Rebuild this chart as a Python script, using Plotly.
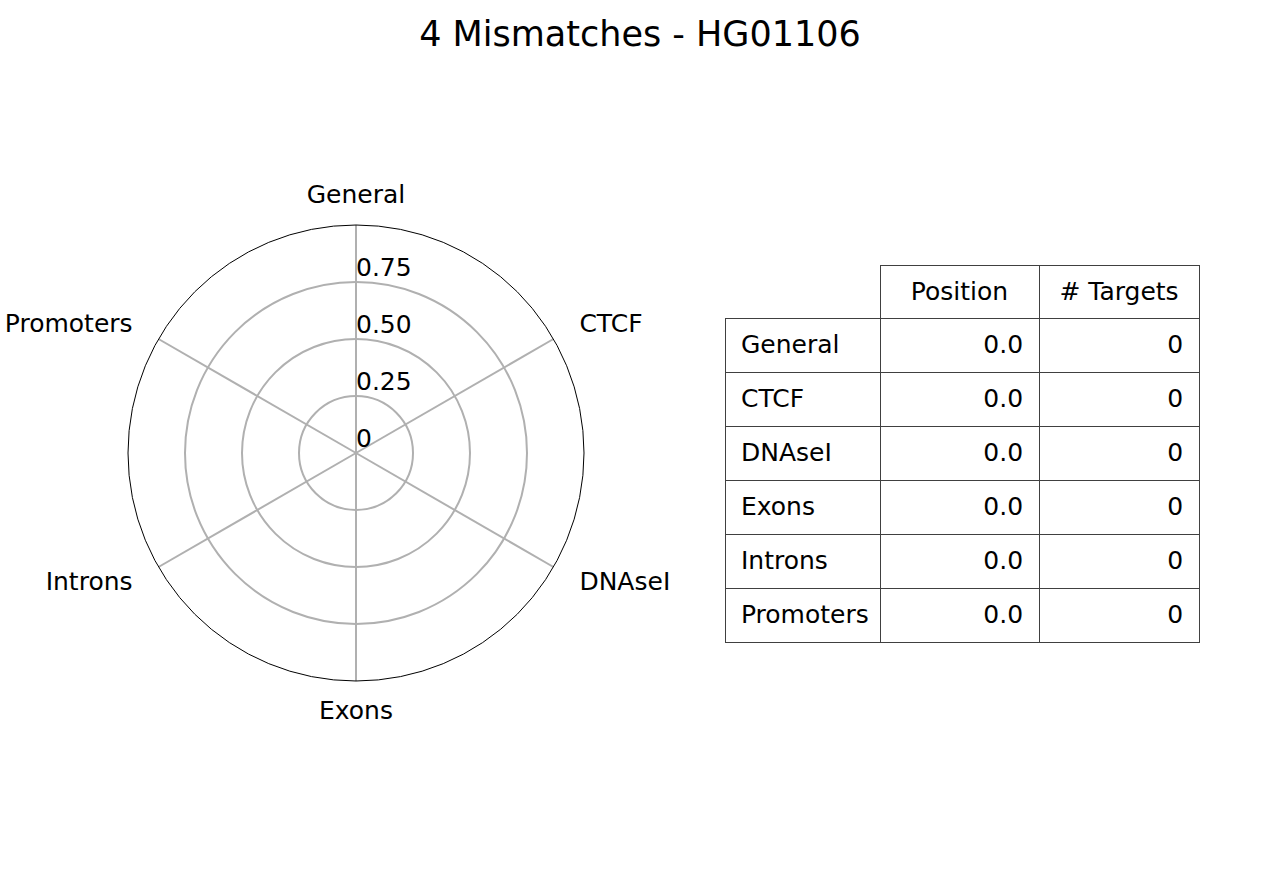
import plotly.graph_objects as go

title = "4 Mismatches - HG01106"
categories = ["General", "CTCF", "DNAseI", "Exons", "Introns", "Promoters"]
positions = [0.0, 0.0, 0.0, 0.0, 0.0, 0.0]
targets = [0, 0, 0, 0, 0, 0]
radial_ticks = [0, 0.25, 0.5, 0.75]
radial_ticktext = ["0", "0.25", "0.50", "0.75"]
table_header = ["", "Position", "# Targets"]

FONT = "DejaVu Sans"
FS = 25
NBSP = "\u00a0"
W, H = 1280, 880

# polar geometry (pixels)
CX, CY, R = 356, 453, 228
LABEL_PX = 258          # radius at which category labels sit
LABEL_DY = 1.5          # small downward nudge of the label overlay
LABEL_RANGE = 1.1       # radial range of the label overlay axis
R2 = LABEL_PX * LABEL_RANGE
CY2 = CY + LABEL_DY
label_positions = ["middle center", "middle right", "middle right",
                   "middle center", "middle left", "middle left"]

fig = go.Figure()

fig.add_trace(go.Scatterpolar(
    r=positions + positions[:1],
    theta=categories + categories[:1],
    mode="lines",
    line=dict(color="#1f77b4", width=1),
    fill="toself",
    fillcolor="rgba(31,119,180,0.25)",
    showlegend=False,
    hoverinfo="skip",
    subplot="polar",
))

# radial tick labels
fig.add_trace(go.Scatterpolar(
    r=radial_ticks,
    theta=[categories[0]] * len(radial_ticks),
    mode="text",
    text=radial_ticktext,
    textposition="top right",
    textfont=dict(family=FONT, size=FS, color="black"),
    showlegend=False,
    hoverinfo="skip",
    cliponaxis=False,
    subplot="polar",
))

# category labels around the circle (overlay polar axis)
fig.add_trace(go.Scatterpolar(
    r=[1] * len(categories),
    theta=categories,
    mode="text",
    text=categories,
    textposition=label_positions,
    textfont=dict(family=FONT, size=FS, color="black"),
    showlegend=False,
    hoverinfo="skip",
    cliponaxis=False,
    subplot="polar2",
))

TX0, TX1 = 725 / W, 1199.5 / W
TY_TOP, TY_BOT = 265, 645
SHIFT = 8.5
colw = [155, 159, 160]

# grid table (borders only)
fig.add_trace(go.Table(
    domain=dict(x=[TX0, TX1], y=[1 - TY_BOT / H, 1 - TY_TOP / H]),
    columnwidth=colw,
    header=dict(
        values=[""] * len(table_header),
        height=53,
        fill=dict(color=["rgba(0,0,0,0)", "white", "white"]),
        line=dict(color=["rgba(0,0,0,0)", "#404040", "#404040"], width=1),
        font=dict(family=FONT, size=FS, color="black"),
    ),
    cells=dict(
        values=[[""] * len(categories)] * 3,
        height=54,
        fill=dict(color="white"),
        line=dict(color="#404040", width=1),
        font=dict(family=FONT, size=FS, color="black"),
    ),
))

# text table (shifted down to centre text vertically)
fig.add_trace(go.Table(
    domain=dict(x=[TX0, TX1], y=[1 - (TY_BOT + SHIFT) / H, 1 - (TY_TOP + SHIFT) / H]),
    columnwidth=colw,
    header=dict(
        values=table_header,
        align="center",
        height=53,
        fill=dict(color="rgba(0,0,0,0)"),
        line=dict(color="rgba(0,0,0,0)", width=0),
        font=dict(family=FONT, size=FS, color="black"),
    ),
    cells=dict(
        values=[categories, positions, targets],
        format=[None, ".1f", "d"],
        prefix=[NBSP, "", ""],
        suffix=["", NBSP, NBSP],
        align=["left", "right", "right"],
        height=54,
        fill=dict(color="rgba(0,0,0,0)"),
        line=dict(color="rgba(0,0,0,0)", width=0),
        font=dict(family=FONT, size=FS, color="black"),
    ),
))

hidden_angular = dict(
    rotation=90, direction="clockwise", showline=False, showgrid=False,
    ticks="", showticklabels=False,
    categoryorder="array", categoryarray=categories,
)

fig.update_layout(
    width=W,
    height=H,
    margin=dict(l=0, r=0, t=0, b=0),
    paper_bgcolor="white",
    plot_bgcolor="white",
    font=dict(family=FONT, size=FS, color="black"),
    title=dict(text=title, x=0.5, xanchor="center", y=1 - 34 / H, yanchor="middle",
               font=dict(family=FONT, size=35, color="black")),
    polar=dict(
        domain=dict(x=[(CX - R) / W, (CX + R) / W], y=[1 - (CY + R) / H, 1 - (CY - R) / H]),
        bgcolor="white",
        angularaxis=dict(
            rotation=90,
            direction="clockwise",
            showline=True,
            linecolor="black",
            linewidth=1,
            gridcolor="#b0b0b0",
            gridwidth=1.5,
            ticks="",
            showticklabels=False,
            categoryorder="array",
            categoryarray=categories,
        ),
        radialaxis=dict(
            range=[0, 1],
            tickvals=radial_ticks,
            showticklabels=False,
            ticks="",
            showline=False,
            gridcolor="#b0b0b0",
            gridwidth=1.5,
        ),
    ),
    polar2=dict(
        domain=dict(x=[(CX - R2) / W, (CX + R2) / W], y=[1 - (CY2 + R2) / H, 1 - (CY2 - R2) / H]),
        bgcolor="rgba(0,0,0,0)",
        angularaxis=hidden_angular,
        radialaxis=dict(range=[0, LABEL_RANGE], showgrid=False, showline=False,
                        ticks="", showticklabels=False),
    ),
)

fig.write_html("out.html")
